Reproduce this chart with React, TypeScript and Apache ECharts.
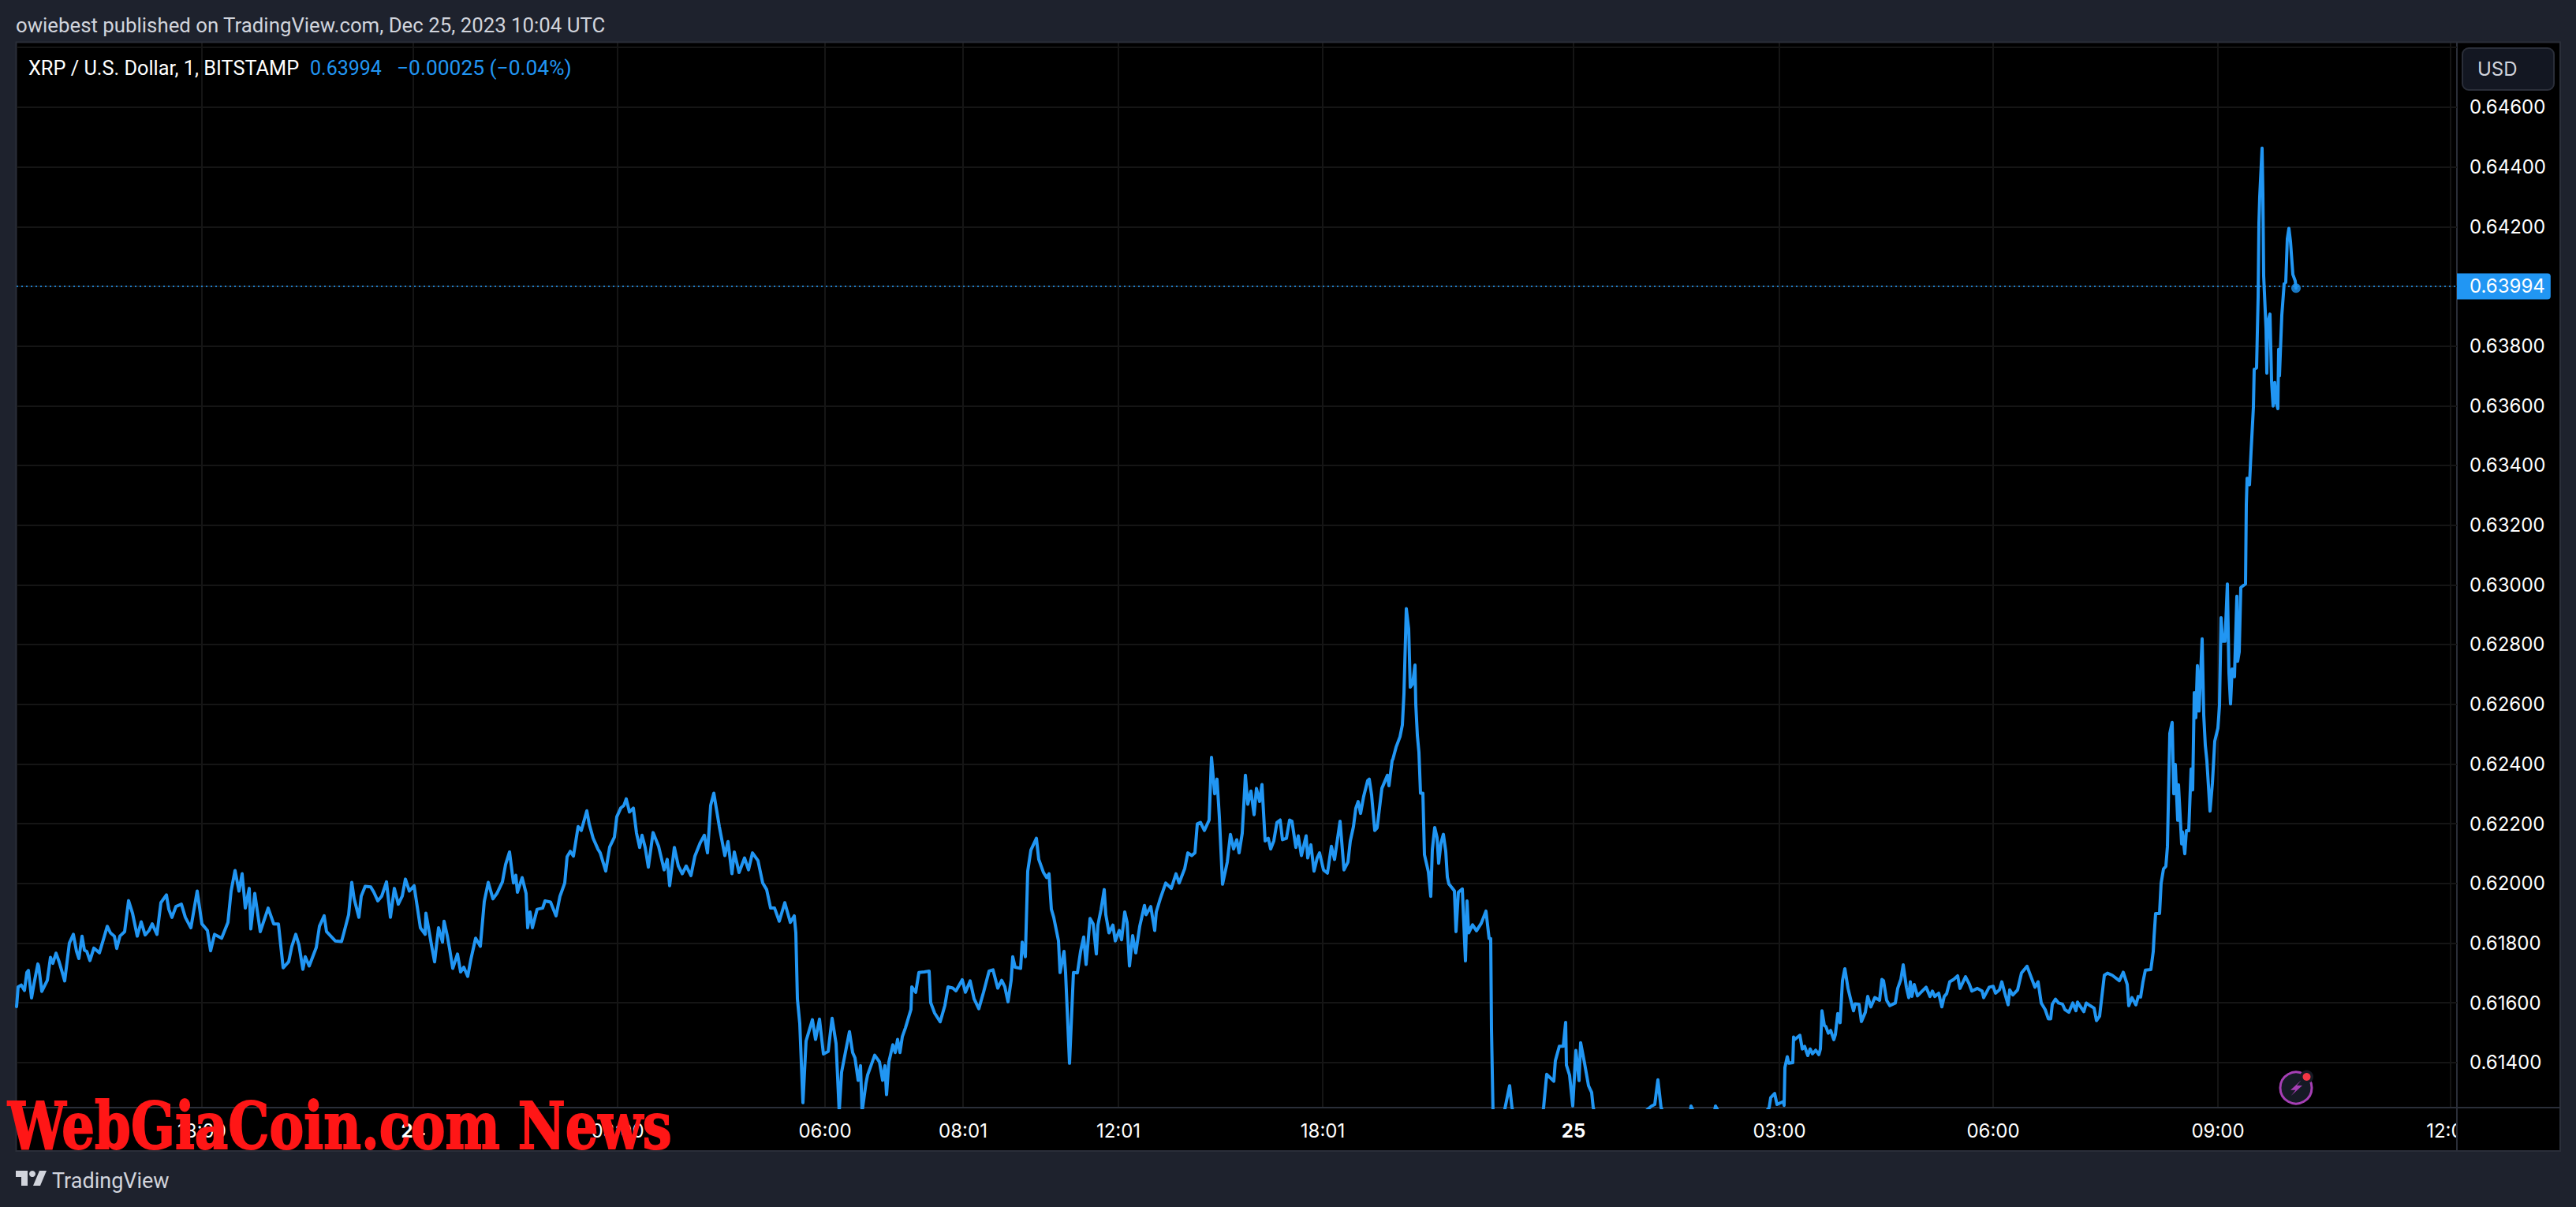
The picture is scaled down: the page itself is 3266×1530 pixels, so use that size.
import React, { useEffect, useRef } from "react";
import * as echarts from "echarts";

// One slot is one horizontal step of the ordinal (gap-free) trading time axis.
const slots = [0,2,6,10,13,15,19,22,27,28,32,39,43,46,50,54,58,61,67,72,76,79,83,86,89,93,98,105,110,115,119,124,127,131,137,142,147,153,158,163,168,172,178,183,190,193,197,202,209,214,221,229,235,242,246,251,260,268,272,277,282,286,290,295,297,302,309,319,326,332,338,345,349,354,358,363,366,371,380,384,390,393,404,412,415,421,425,428,434,437,442,449,453,458,463,469,474,479,484,489,493,498,504,509,512,518,519,526,530,535,540,542,546,549,553,559,563,567,572,576,582,588,593,598,604,609,616,620,625,630,633,635,641,646,648,651,654,660,667,670,677,684,689,695,698,702,706,712,716,723,726,731,737,740,747,752,758,761,766,770,773,777,782,786,790,793,797,801,807,814,821,825,828,834,839,844,849,855,860,867,872,876,880,884,891,898,902,907,910,916,923,928,933,940,946,951,956,961,967,974,981,986,988,990,993,997,1001,1009,1013,1018,1023,1029,1034,1039,1043,1046,1053,1056,1060,1063,1067,1070,1072,1077,
1079,1088,1094,1098,1101,1103,1106,1111,1114,1117,1120,1123,1127,1134,1135,1140,1144,1151,1157,1159,1164,1171,1177,1181,1187,1191,1199,1203,1209,1214,1220,1226,1233,1238,1244,1249,1253,1257,1261,1263,1266,1273,1275,1279,1282,1286,1293,1296,1302,1306,1309,1312,1315,1321,1323,1328,1330,1335,1340,1345,1349,1353,1356,1361,1365,1369,1371,1375,1379,1381,1385,1390,1393,1398,1401,1405,1408,1411,1415,1419,1424,1430,1432,1438,1443,1445,1450,1457,1464,1470,1474,1481,1485,1490,1494,1497,1501,1506,1512,1515,1519,1522,1525,1529,1535,1539,1543,1547,1550,1554,1558,1561,1565,1569,1572,1576,1579,1583,1587,1590,1594,1598,1602,1605,1610,1614,1617,1622,1625,1629,1635,1637,1641,1645,1649,1652,1657,1662,1667,1671,1678,1683,1688,1691,1695,1698,1701,1704,1708,1713,1715,1718,1722,1725,1731,1738,1740,1744,
1745,1749,1754,1757,1759,1762,1765,1767,1770,1773,1774,1776,1778,1780,1783,1784,1785,1790,1793,1795,1798,1801,1803,1806,1809,1812,1814,1816,1823,1825,1828,1833,1837,1839,1841,1846,1851,1857,1863,1867,1869,1870,1872,1880,1887,1893,1896,1910,1930,1936,1940,1949,1951,1956,1961,1964,1965,1969,1973,1977,1981,1983,1988,1993,1997,1999,2010,2040,2073,2077,2081,2085,2100,2120,2123,2130,2150,2154,2165,2200,2222,2224,2229,2232,
2240,2241,2242,2245,2247,2252,2253,2254,2261,2264,2267,2271,2274,2277,2281,2285,2287,2289,2292,2294,2297,2300,2304,2306,2309,2312,2315,2318,2322,2326,2329,2331,2336,2339,2344,2347,2351,2356,2362,2365,2367,2371,2375,2382,2385,2389,2392,2396,2399,2401,2403,2406,2410,2416,2421,2426,2429,2432,2437,2441,2444,2447,2451,2456,2461,2464,2471,2476,2479,2486,2492,2494,2501,2506,2509,2514,2517,2521,2525,2527,2531,2537,2542,2549,2554,2559,2563,2567,2572,2576,2579,2581,2585,2589,2594,2597,2602,2607,2611,2613,2621,2624,2629,2634,2637,2641,2647,2651,2657,2666,2671,2676,2678,2682,2687,2690,2693,2696,2699,2706,2709,2710,2712,2717,2719,2722,
2725,2727,2730,2733,2735,2737,2740,2741,2745,2746,2749,2751,2754,2757,2759,2761,2763,2765,2767,2771,2773,2775,2777,2781,2784,2787,2791,2793,2795,2797,2800,2803,2805,2807,2809,2812,2815,2816,2818,2820,2826,2827,
2828,2831,2833,2836,2837,2840,2842,2843,2844,2847,2848,2849,2852,2853,2854,2857,2859,2861,2863,2865,2867,2868,2869,2872,2875,2877,2879,2881,2883,2886,2889,2890];

const prices = [0.61587,0.61653,0.61659,0.61641,0.61701,0.61708,0.61616,0.61662,0.61730,0.61723,0.61638,0.61675,0.61752,0.61732,0.61766,0.61737,0.61701,0.61673,0.61800,0.61829,0.61772,0.61748,0.61823,0.61776,0.61772,0.61741,0.61783,0.61767,0.61811,0.61856,0.61834,0.61823,0.61782,0.61823,0.61838,0.61942,0.61900,0.61823,0.61871,0.61827,0.61842,0.61864,0.61829,0.61935,0.61961,0.61913,0.61886,0.61922,0.61930,0.61886,0.61851,0.61974,0.61864,0.61842,0.61774,0.61829,0.61816,0.61869,0.61974,0.62043,0.61974,0.62032,0.61917,0.61983,0.61847,0.61966,0.61838,0.61917,0.61864,0.61864,0.61717,0.61737,0.61789,0.61829,0.61794,0.61712,0.61754,0.61723,0.61785,0.61856,0.61891,0.61838,0.61807,0.61805,0.61834,0.61895,0.62003,0.61948,0.61886,0.61957,0.61990,0.61988,0.61970,0.61941,0.61957,0.62005,0.61886,0.61983,0.61930,0.61957,0.62014,0.61974,0.61992,0.61904,0.61851,0.61829,0.61900,0.61794,0.61737,0.61851,0.61803,0.61873,0.61825,0.61781,0.61715,0.61763,0.61703,0.61719,0.61688,0.61745,0.61816,0.61789,0.61939,0.62003,0.61948,0.61966,0.62005,0.62063,0.62105,0.62001,0.62027,0.61970,0.62019,0.61966,0.61851,0.61904,0.61851,0.61913,0.61917,0.61941,0.61937,0.61891,0.61957,0.62001,0.62089,0.62107,0.62091,0.62190,0.62177,0.62243,0.62199,0.62151,0.62115,0.62102,0.62041,0.62122,0.62155,0.62223,0.62252,0.62261,0.62283,0.62239,0.62252,0.62168,0.62120,0.62161,0.62120,0.62054,0.62170,0.62124,0.62045,0.62080,0.61992,0.62120,0.62058,0.62032,0.62058,0.62026,0.62091,0.62137,0.62161,0.62102,0.62261,0.62302,0.62190,0.62093,0.62140,0.62032,0.62105,0.62036,0.62085,0.62045,0.62102,0.62076,0.62001,0.61979,0.61917,0.61917,0.61873,0.61935,0.61869,0.61891,0.61834,0.61613,0.61530,0.61265,0.61472,0.61543,0.61477,0.61545,0.61428,0.61437,0.61548,0.61463,0.61235,0.61367,0.61463,0.61503,0.61433,0.61415,0.61340,0.61389,0.61235,0.61331,
0.61358,0.61424,0.61402,0.61340,0.61389,0.61292,0.61402,0.61459,0.61433,0.61477,0.61433,0.61486,0.61516,0.61578,0.61653,0.61635,0.61701,0.61703,0.61706,0.61600,0.61565,0.61536,0.61591,0.61653,0.61649,0.61640,0.61677,0.61635,0.61673,0.61613,0.61580,0.61635,0.61706,0.61710,0.61649,0.61675,0.61653,0.61603,0.61675,0.61754,0.61719,0.61715,0.61803,0.61754,0.62041,0.62111,0.62151,0.62080,0.62036,0.62019,0.62032,0.61913,0.61886,0.61807,0.61701,0.61772,0.61701,0.61397,0.61701,0.61700,0.61772,0.61820,0.61728,0.61882,0.61864,0.61763,0.61860,0.61913,0.61979,0.61895,0.61834,0.61860,0.61807,0.61842,0.61811,0.61904,0.61869,0.61723,0.61825,0.61767,0.61856,0.61926,0.61895,0.61922,0.61842,0.61904,0.61948,0.62001,0.61983,0.62032,0.62001,0.62049,0.62102,0.62093,0.62102,0.62199,0.62204,0.62177,0.62212,0.62422,0.62300,0.62349,0.62221,0.61997,0.62071,0.62164,0.62115,0.62146,0.62102,0.62168,0.62362,0.62265,0.62309,0.62230,0.62318,0.62274,0.62331,0.62142,0.62151,0.62115,0.62142,0.62204,0.62212,0.62146,0.62151,0.62212,0.62208,0.62120,0.62159,0.62093,0.62159,0.62085,0.62129,0.62041,0.62085,0.62102,0.62045,0.62034,0.62124,0.62080,0.62208,0.62045,0.62071,0.62142,0.62190,0.62252,0.62274,0.62234,0.62292,0.62344,0.62349,0.62296,0.62177,0.62186,0.62318,0.62362,0.62327,0.62411,
0.62416,0.62456,0.62491,0.62531,0.62634,0.62920,0.62852,0.62657,0.62668,0.62731,0.62600,0.62496,0.62439,0.62302,0.62302,0.62199,0.62096,0.62038,0.61956,0.62113,0.62187,0.62153,0.62067,0.62136,0.62164,0.62107,0.62021,0.61998,0.61975,0.61838,0.61970,0.61981,0.61740,0.61941,0.61834,0.61861,0.61841,0.61866,0.61907,0.61815,0.61815,0.61511,0.61225,0.61140,0.61245,0.61322,0.61248,0.61130,0.61150,0.61248,0.61360,0.61337,0.61406,0.61454,0.61454,0.61534,0.61391,0.61357,0.61254,0.61440,0.61339,0.61466,0.61397,0.61322,0.61299,0.61248,0.61160,0.61180,0.61254,0.61259,0.61342,0.61248,0.61170,0.61190,0.61254,0.61210,0.61200,0.61254,0.61200,0.61180,0.61248,0.61282,0.61296,0.61259,
0.61269,0.61256,0.61383,0.61419,0.61397,0.61399,0.61485,0.61476,0.61491,0.61445,0.61454,0.61423,0.61445,0.61429,0.61441,0.61426,0.61445,0.61573,0.61524,0.61520,0.61498,0.61507,0.61476,0.61493,0.61564,0.61533,0.61674,0.61714,0.61648,0.61604,0.61573,0.61596,0.61595,0.61537,0.61568,0.61621,0.61586,0.61617,0.61608,0.61678,0.61674,0.61608,0.61590,0.61599,0.61648,0.61678,0.61727,0.61652,0.61617,0.61670,0.61621,0.61661,0.61623,0.61639,0.61652,0.61621,0.61639,0.61621,0.61632,0.61586,0.61621,0.61630,0.61670,0.61678,0.61690,0.61648,0.61687,0.61661,0.61639,0.61648,0.61639,0.61617,0.61652,0.61655,0.61632,0.61643,0.61670,0.61630,0.61593,0.61643,0.61626,0.61643,0.61700,0.61722,0.61687,0.61652,0.61670,0.61599,0.61577,0.61546,0.61546,0.61595,0.61612,0.61599,0.61595,0.61577,0.61568,0.61599,0.61573,0.61602,0.61570,0.61599,0.61590,0.61582,0.61540,0.61555,0.61692,0.61699,0.61692,0.61674,0.61702,0.61661,0.61590,0.61617,0.61593,0.61621,0.61619,0.61670,0.61709,0.61711,0.61771,0.61819,0.61899,0.61899,0.62000,0.62048,
0.62057,0.62123,0.62502,0.62539,0.62300,0.62398,0.62211,0.62330,0.62132,0.62172,0.62099,0.62176,0.62176,0.62383,0.62313,0.62639,0.62555,0.62729,0.62577,0.62819,0.62564,0.62463,0.62410,0.62242,0.62335,0.62476,0.62520,0.62595,0.62890,0.62811,0.62811,0.63003,0.62705,0.62601,0.62718,0.62692,0.62962,0.62744,0.62775,0.62991,0.63003,0.63269,
0.63357,0.63335,0.63445,0.63595,0.63722,0.63727,0.63965,0.64211,0.64300,0.64463,0.64308,0.64035,0.63859,0.63709,0.63877,0.63907,0.63683,0.63599,0.63678,0.63612,0.63590,0.63789,0.63700,0.63903,0.64009,0.64013,0.64159,0.64194,0.64150,0.64040,0.64018,0.63994];

const lastPrice = 0.63994;
const priceTicks = [0.614,0.616,0.618,0.62,0.622,0.624,0.626,0.628,0.63,0.632,0.634,0.636,0.638,0.64,0.642,0.644,0.646,0.648];
const priceLabels = [0.614,0.616,0.618,0.62,0.622,0.624,0.626,0.628,0.63,0.632,0.634,0.636,0.638,0.642,0.644,0.646];
const timeTickSlots = [235,503,762,1025,1200,1397,1656,1974,2235,2506,2791,3086];
const timeTickLabels = ["18:00","24","03:00","06:00","08:01","12:01","18:01","25","03:00","06:00","09:00","12:00"];

const PAGE = "#1e222d";
const FRAME = "#2a2e39";
const GRIDLINE = "#151515";
const BLUE = "#2196f3";
const UI = "Inter, 'Noto Sans', sans-serif";
const HEAD = "Roboto, 'Noto Sans', sans-serif";

export default function App() {
  const ref = useRef<HTMLDivElement>(null);
  useEffect(() => {
    const chart = echarts.init(ref.current!, undefined, { renderer: "svg" });
    chart.setOption({
      animation: false,
      backgroundColor: PAGE,
      grid: { left: 21, right: 151, top: 54, bottom: 126, show: false },
      xAxis: {
        type: "value",
        min: 0,
        max: 3094,
        z: 0,
        axisLine: { show: false },
        axisTick: { show: false, customValues: timeTickSlots },
        splitLine: { show: true, lineStyle: { color: GRIDLINE, width: 2 } },
        axisLabel: {
          customValues: timeTickSlots,
          hideOverlap: false,
          showMinLabel: true,
          showMaxLabel: true,
          margin: 17,
          color: "#ffffff",
          fontFamily: UI,
          fontSize: 24,
          formatter: (v: number) => {
            const t = timeTickLabels[timeTickSlots.indexOf(v)] ?? "";
            return t.length === 2 ? `{b|${t}}` : t;
          },
          rich: { b: { color: "#ffffff", fontFamily: UI, fontSize: 24, fontWeight: "bold" } },
        },
      },
      yAxis: {
        type: "value",
        position: "right",
        min: 0.612486,
        max: 0.648165,
        z: 1.5,
        axisLine: { show: false },
        axisTick: { show: false, customValues: priceTicks },
        splitLine: { show: true, lineStyle: { color: GRIDLINE, width: 2 } },
        axisLabel: {
          customValues: priceLabels,
          margin: 16,
          color: "#ffffff",
          fontFamily: UI,
          fontSize: 24,
          formatter: (v: number) => v.toFixed(5),
        },
      },
      series: [
        {
          type: "line",
          data: slots.map((s, i) => [s, prices[i]]),
          showSymbol: false,
          symbol: "none",
          sampling: undefined,
          smooth: false,
          z: 2,
          lineStyle: { color: BLUE, width: 4, join: "round", cap: "round" },
          markLine: {
            silent: true,
            symbol: "none",
            animation: false,
            lineStyle: { color: "rgba(33,150,243,0.8)", width: 2, type: [2, 4] },
            label: {
              show: true,
              position: "end",
              distance: 0,
              formatter: lastPrice.toFixed(5),
              color: "#ffffff",
              fontFamily: UI,
              fontSize: 24,
              backgroundColor: BLUE,
              borderRadius: [0, 4, 4, 0],
              padding: [5, 7, 4, 16],
            },
            emphasis: { disabled: true },
            data: [{ yAxis: lastPrice }],
          },
        },
        {
          type: "scatter",
          data: [[slots[slots.length - 1], lastPrice]],
          symbol: "circle",
          symbolSize: 12,
          z: 3,
          itemStyle: { color: BLUE },
        },
      ],
      graphic: [
        { type: "rect", z: -1, silent: true, shape: { x: 21, y: 54, width: 3225, height: 1405 }, style: { fill: "#000000" } },
        // visible end of the first tick label, the rest is cut by the pane's left edge
        { type: "text", z: 0, silent: true, x: 36, y: 1433, style: { text: "0", fill: "#ffffff", font: `24px ${UI}`, textAlign: "right", textVerticalAlign: "middle" } },
        { type: "rect", z: 1, silent: true, shape: { x: 0, y: 54, width: 21, height: 1405 }, style: { fill: PAGE } },
        { type: "rect", z: 1, silent: true, shape: { x: 3115, y: 54, width: 131, height: 1405 }, style: { fill: "#000000" } },
        { type: "rect", z: 1, silent: true, shape: { x: 20.5, y: 53.5, width: 3225.5, height: 1405.5 }, style: { fill: "none", stroke: FRAME, lineWidth: 2 } },
        { type: "line", z: 1, silent: true, shape: { x1: 3115, y1: 54, x2: 3115, y2: 1459 }, style: { stroke: FRAME, lineWidth: 2 } },
        { type: "line", z: 1, silent: true, shape: { x1: 21, y1: 1404, x2: 3246, y2: 1404 }, style: { stroke: FRAME, lineWidth: 2 } },

        { type: "text", z: 4, silent: true, x: 20, y: 32, style: { text: "owiebest published on TradingView.com, Dec 25, 2023 10:04 UTC", fill: "#d1d4dc", font: `25.8px ${HEAD}`, textVerticalAlign: "middle" } },
        { type: "text", z: 4, silent: true, x: 36, y: 86, style: { text: "XRP / U.S. Dollar, 1, BITSTAMP", fill: "#ffffff", font: `25.3px ${HEAD}`, textVerticalAlign: "middle" } },
        { type: "text", z: 4, silent: true, x: 393, y: 86, style: { text: "0.63994", fill: BLUE, font: `25px ${HEAD}`, textVerticalAlign: "middle" } },
        { type: "text", z: 4, silent: true, x: 503, y: 86, style: { text: "\u22120.00025 (\u22120.04%)", fill: BLUE, font: `26.4px ${HEAD}`, textVerticalAlign: "middle" } },

        { type: "rect", z: 4, silent: true, shape: { x: 3122, y: 61, width: 116, height: 53, r: 8 }, style: { fill: "#131722", stroke: FRAME, lineWidth: 2 } },
        { type: "text", z: 5, silent: true, x: 3141, y: 87, style: { text: "USD", fill: "#d1d4dc", font: `24px ${UI}`, textVerticalAlign: "middle" } },

        // flash icon
        { type: "circle", z: 4, silent: true, shape: { cx: 2911, cy: 1379, r: 20 }, style: { fill: "#161a25", stroke: "#a63fb5", lineWidth: 3 } },
        { type: "polygon", z: 5, silent: true, shape: { points: [[2917.7,1369.3],[2904,1381.7],[2910.5,1381.7],[2904.7,1389],[2919,1376],[2912,1376]] }, style: { fill: "#a63fb5" } },
        { type: "circle", z: 5, silent: true, shape: { cx: 2924.5, cy: 1365, r: 8.5 }, style: { fill: "#161a25" } },
        { type: "circle", z: 6, silent: true, shape: { cx: 2924.5, cy: 1365, r: 5 }, style: { fill: "#f23645" } },

        // TradingView logo
        { type: "polygon", z: 4, silent: true, shape: { points: [[20,1484],[35,1484],[35,1503],[27,1503],[27,1492],[20,1492]] }, style: { fill: "#d1d4dc" } },
        { type: "circle", z: 4, silent: true, shape: { cx: 41, cy: 1488, r: 4 }, style: { fill: "#d1d4dc" } },
        { type: "polygon", z: 4, silent: true, shape: { points: [[50,1484],[59,1484],[51,1503],[42,1503]] }, style: { fill: "#d1d4dc" } },
        { type: "text", z: 4, silent: true, x: 66, y: 1497, style: { text: "TradingView", fill: "#d1d4dc", font: `27px ${HEAD}`, textVerticalAlign: "middle" } },

        // overlaid watermark
        { type: "text", z: 10, silent: true, x: 10, y: 1468, scaleX: 0.8, style: { text: "WebGiaCoin.com News", fill: "#ff1616", stroke: "#ff1616", lineWidth: 2, font: `bold 82px 'DejaVu Serif', serif`, textVerticalAlign: "bottom" } },
      ],
    });
    return () => chart.dispose();
  }, []);
  return <div ref={ref} style={{ position: "absolute", left: 0, top: 0, width: 3266, height: 1530 }} />;
}
